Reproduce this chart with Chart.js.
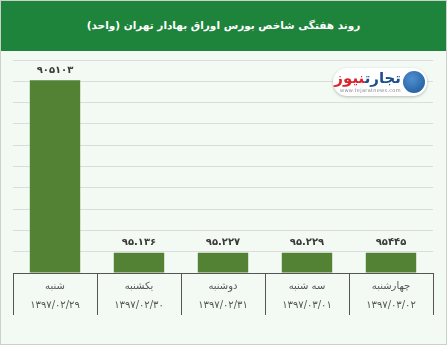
<!DOCTYPE html>
<html>
<head>
<meta charset="utf-8">
<script src="https://cdn.jsdelivr.net/npm/chart.js@4.4.0/dist/chart.umd.min.js"></script>
<style>
  html, body { margin: 0; padding: 0; background: #fff; }
  #wrap {
    position: relative; width: 445px; height: 343px;
    border: 1px solid #c9d1c9; background: #f2faf3; overflow: hidden;
  }
  #banner {
    height: 50px; background: #1f843b; color: #fff;
    font: bold 10.5px "DejaVu Sans", sans-serif;
    text-align: center; line-height: 48px; direction: rtl;
  }
  #chartBox { position: absolute; left: -1px; top: 50px; width: 447px; height: 294px; }
  #logo {
    position: absolute; left: 332px; top: 67px; width: 94px; height: 28px;
    background: #fff; border-radius: 14px; box-shadow: 0 1px 3px rgba(0,0,0,0.25);
  }
  #logo .name {
    position: absolute; right: 26px; top: 1px; direction: rtl;
    font: bold 15px "DejaVu Sans", sans-serif; white-space: nowrap;
  }
  #logo .url {
    position: absolute; left: 7px; top: 19px; font: 5px "DejaVu Sans", sans-serif;
    color: #888; letter-spacing: 0.3px;
  }
  #logo .icon {
    position: absolute; right: 2px; top: 3px; width: 22px; height: 22px; border-radius: 50%;
    background: radial-gradient(circle at 40% 35%, #4f8fd0, #1a5597);
  }
</style>
</head>
<body>
<div id="wrap">
  <div id="banner">روند هفتگی شاخص بورس اوراق بهادار تهران (واحد)</div>
  <div id="chartBox"><canvas id="c"></canvas></div>
  <div id="logo">
    <div class="icon"></div>
    <div class="name"><span style="color:#1d4f8f">تجارت</span><span style="color:#d8262b">نیوز</span></div>
    <div class="url">www.tejaratnews.com</div>
  </div>
</div>
<script>
// ---- Data ----
const days = ["شنبه", "یکشنبه", "دوشنبه", "سه شنبه", "چهارشنبه"];
const dates = ["۱۳۹۷/۰۲/۲۹", "۱۳۹۷/۰۲/۳۰", "۱۳۹۷/۰۲/۳۱", "۱۳۹۷/۰۳/۰۱", "۱۳۹۷/۰۳/۰۲"];
const values = [905103, 95136, 95227, 95229, 95445];
const valueLabels = ["۹۰۵۱۰۳", "۹۵.۱۳۶", "۹۵.۲۲۷", "۹۵.۲۲۹", "۹۵۴۴۵"];

// ---- Value labels above bars ----
const barLabels = {
  id: "barLabels",
  afterDatasetsDraw(chart) {
    const ctx = chart.ctx;
    const meta = chart.getDatasetMeta(0);
    ctx.save();
    ctx.font = "bold 10px 'DejaVu Sans'";
    ctx.fillStyle = "#3a3a3a";
    ctx.textAlign = "center";
    ctx.textBaseline = "middle";
    meta.data.forEach((bar, i) => {
      ctx.fillText(valueLabels[i], bar.x, bar.y - 10);
    });
    ctx.restore();
  }
};

new Chart(document.getElementById("c"), {
  type: "bar",
  data: {
    labels: days.map((d, i) => [d, dates[i]]),
    datasets: [{
      data: values,
      backgroundColor: "#548235",
      categoryPercentage: 1,
      barPercentage: 0.6
    }]
  },
  options: {
    responsive: true,
    maintainAspectRatio: false,
    animation: false,
    layout: { padding: { left: 13, right: 14, top: 9, bottom: 30 } },
    plugins: { legend: { display: false }, tooltip: { enabled: false } },
    scales: {
      x: {
        grid: { offset: true, drawOnChartArea: false, drawTicks: true, tickLength: 42, color: "#555" },
        border: { color: "#555" },
        ticks: {
          color: "#555",
          font: { family: "DejaVu Sans", size: 10, lineHeight: 1.9 },
          padding: -38,
          maxRotation: 0
        },
        afterFit(s) { s.height = 42; }
      },
      y: {
        min: 0, max: 1000000,
        ticks: { display: false, stepSize: 100000 },
        grid: { color: "#dcdcdc", drawTicks: false },
        border: { display: false },
        afterFit(s) { s.width = 0; }
      }
    }
  },
  plugins: [barLabels]
});
</script>
</body>
</html>
